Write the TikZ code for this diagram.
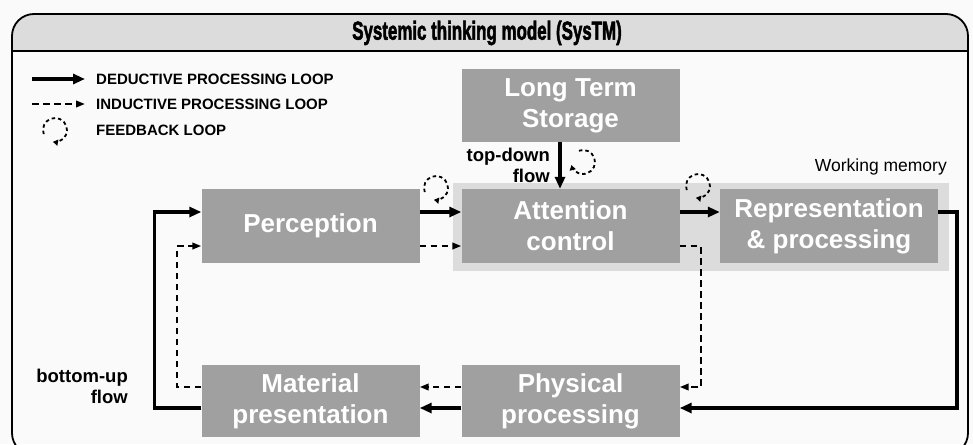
\documentclass[tikz,border=0pt]{standalone}
\usepackage{fontspec}
\usepackage{graphicx}
\setmainfont{Liberation Sans}
\newfontfamily\mytitlefont[FakeBold=2.5]{Liberation Sans Bold}
\usetikzlibrary{arrows.meta}
\definecolor{boxgray}{HTML}{A0A0A0}
\definecolor{wmgray}{HTML}{DCDCDC}
\definecolor{hdrgray}{HTML}{DCDCDC}
\definecolor{pagebg}{HTML}{FAFAFA}
\begin{document}
\begin{tikzpicture}[x=1pt,y=1pt,
  box/.style={fill=boxgray, text=white, font=\bfseries\fontsize{26}{31}\selectfont, align=center, inner sep=0pt, minimum width=218pt, minimum height=74pt},
  ded/.style={line width=3.5pt, -{Triangle[length=12pt,width=10pt]}},
  ind/.style={line width=2.1pt, dash pattern=on 6.5pt off 4.5pt, -{Triangle[length=9pt,width=6.5pt]}},
  fbloop/.style={line width=1.8pt, dash pattern=on 3.5pt off 3pt, -{Triangle[length=5pt,width=6pt]}},
  lbl/.style={font=\bfseries\fontsize{18.5}{21}\selectfont, align=right, inner sep=0pt},
  leg/.style={font=\bfseries\fontsize{15}{18}\selectfont, anchor=west, inner sep=0pt}]

\useasboundingbox (0,0) rectangle (973,-444);
\fill[pagebg] (0,0) rectangle (973,-444);
\begin{scope}
  \clip[rounded corners=22pt] (12,-14) rectangle (968,-455);
  \fill[hdrgray] (12,-14) rectangle (968,-51);
\end{scope}
\draw[line width=1.5pt] (12,-51) -- (968,-51);
\draw[line width=1.8pt, rounded corners=22pt] (12,-455) rectangle (968,-14);

\node[font=\mytitlefont\fontsize{26}{30}\selectfont, inner sep=0pt] (title) at (487,-33) {\scalebox{0.65}[1]{Systemic thinking model (SysTM)}};

% legend
\coordinate (l1a) at (32,-79);  \coordinate (l1b) at (85,-79);
\coordinate (l2a) at (32,-104); \coordinate (l2b) at (85,-104);
\coordinate (fb0) at (55,-130);
\draw[ded] (l1a) -- (l1b);
\draw[ind] (l2a) -- (l2b);
\draw[fbloop] ([shift={(200:12pt)}]fb0) arc[start angle=200, end angle=-100, radius=12pt];
\node[leg] (t1) at (96,-79) {DEDUCTIVE PROCESSING LOOP};
\node[leg] (t2) at (96,-104) {INDUCTIVE PROCESSING LOOP};
\node[leg] (t3) at (96,-130) {FEEDBACK LOOP};

% working memory
\node[fill=wmgray, minimum width=496pt, minimum height=88pt, inner sep=0pt] (wm) at (701,-227) {};
\node[anchor=base east, font=\fontsize{17.5}{20}\selectfont, inner sep=0pt] (wmlabel) at (947,-171) {Working memory};

% boxes
\node[box, minimum height=73pt] (lts) at (570.5,-105.5) {Long Term\\Storage};
\node[box] (perc) at (310.5,-226) {Perception};
\node[box] (att) at (570.5,-226) {Attention\\control};
\node[box] (rep) at (829,-226) {Representation\\\&\ processing};
\node[box, minimum height=72pt] (mat) at (310.5,-401) {Material\\presentation};
\node[box, minimum height=72pt] (phys) at (570.5,-401) {Physical\\processing};

% connectors
\draw[ded] ([xshift=-10.5pt]lts.south) -- ([xshift=-10.5pt]att.north);
\draw[ded] ([yshift=14pt]perc.east) -- ([yshift=14pt]att.west);
\draw[ind] ([yshift=-20pt]perc.east) -- ([yshift=-20pt]att.west);
\draw[ded] ([yshift=14pt]att.east) -- ([yshift=14pt]rep.west);
\draw[ded] ([yshift=14pt]rep.east) -- ++(19,0) |- ([yshift=-7pt]phys.east);
\draw[ind] ([yshift=-20pt]att.east) -- ++(21,0) |- ([yshift=14pt]phys.east);
\draw[ded] ([yshift=-7pt]phys.west) -- ([yshift=-7pt]mat.east);
\draw[ind] ([yshift=14pt]phys.west) -- ([yshift=14pt]mat.east);
\draw[ded] ([yshift=-7pt]mat.west) -- ++(-47,0) |- ([yshift=14pt]perc.west);
\draw[ind] ([yshift=14pt]mat.west) -- ++(-24,0) |- ([yshift=-20pt]perc.west);

% feedback loops
\coordinate (fb1) at (436,-188);
\coordinate (fb2) at (698,-186);
\coordinate (fb3) at (583,-162);
\draw[fbloop] ([shift={(200:12pt)}]fb1) arc[start angle=200, end angle=-100, radius=12pt];
\draw[fbloop] ([shift={(200:12pt)}]fb2) arc[start angle=200, end angle=-100, radius=12pt];
\draw[fbloop] ([shift={(110:12pt)}]fb3) arc[start angle=110, end angle=-165, radius=12pt];

% labels
\node[lbl, anchor=north east] (td) at (550,-148) {top-down\\flow};
\node[lbl, anchor=north east] (bu) at (128,-369) {bottom-up\\flow};
\end{tikzpicture}
\end{document}
